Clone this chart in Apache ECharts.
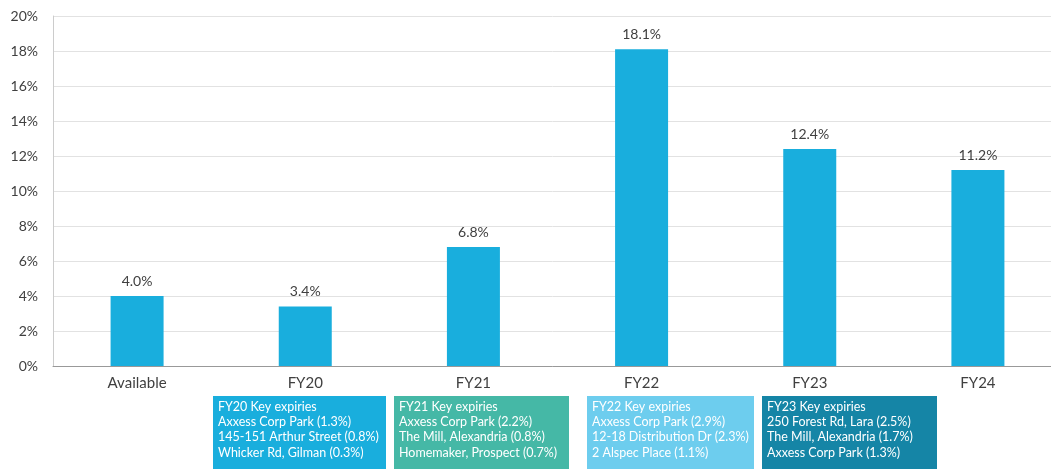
<!DOCTYPE html>
<html>
<head>
<meta charset="utf-8">
<script src="https://cdn.jsdelivr.net/npm/echarts@6/dist/echarts.min.js"></script>
<style>html,body{margin:0;padding:0;background:#fff}#c{width:1051px;height:469px}</style>
</head>
<body>
<div id="c"></div>
<script>
const categories = ['Available', 'FY20', 'FY21', 'FY22', 'FY23', 'FY24'];
const values = [4.0, 3.4, 6.8, 18.1, 12.4, 11.2];
const boxTitles = ['FY20 Key expiries', 'FY21 Key expiries', 'FY22 Key expiries', 'FY23 Key expiries'];
const boxLines = [
  ['Axxess Corp Park (1.3%)', '145-151 Arthur Street (0.8%)', 'Whicker Rd, Gilman (0.3%)'],
  ['Axxess Corp Park (2.2%)', 'The Mill, Alexandria (0.8%)', 'Homemaker, Prospect (0.7%)'],
  ['Axxess Corp Park (2.9%)', '12-18 Distribution Dr (2.3%)', '2 Alspec Place (1.1%)'],
  ['250 Forest Rd, Lara (2.5%)', 'The Mill, Alexandria (1.7%)', 'Axxess Corp Park (1.3%)']
];
const boxColors = ['#19AEDD', '#45B8A6', '#6DCDEE', '#1585A6'];
const boxRects = [[213, 396, 173, 73], [394, 396, 175, 73], [587, 396, 167, 73], [762, 396, 175, 73]];

const FONT = 'Lato';
const chart = echarts.init(document.getElementById('c'));
const graphics = boxTitles.map((t, i) => ({
  type: 'group',
  left: boxRects[i][0], top: boxRects[i][1],
  children: [
    { type: 'rect', shape: { x: 0, y: 0, width: boxRects[i][2], height: boxRects[i][3] }, style: { fill: boxColors[i] } },
    { type: 'text', x: 5, y: 3, style: { text: [t].concat(boxLines[i]).join('\n'), fill: '#fff', font: '12.5px ' + FONT, lineHeight: 15.3 } }
  ]
}));
chart.setOption({
  animation: false,
  grid: { left: 53, top: 16, height: 350, width: 1009, outerBoundsMode: 'none', containLabel: false },
  xAxis: {
    type: 'category', data: categories,
    axisLine: { lineStyle: { color: '#999', width: 1 } },
    axisTick: { show: false },
    axisLabel: { color: '#404040', fontSize: 15, fontFamily: FONT, margin: 10 }
  },
  yAxis: {
    type: 'value', min: 0, max: 20, interval: 2,
    axisLine: { show: true, lineStyle: { color: '#ccc' } },
    axisTick: { show: false },
    splitLine: { lineStyle: { color: '#e2e2e2' } },
    axisLabel: { formatter: '{value}%', color: '#404040', fontSize: 14, fontFamily: FONT, margin: 15 }
  },
  series: [{
    type: 'bar', data: values, barWidth: 53,
    itemStyle: { color: '#19AEDD' },
    label: { show: true, position: 'top', distance: 8, color: '#404040', fontSize: 14, fontFamily: FONT, formatter: p => p.value.toFixed(1) + '%' }
  }],
  graphic: graphics
});
</script>
</body>
</html>
